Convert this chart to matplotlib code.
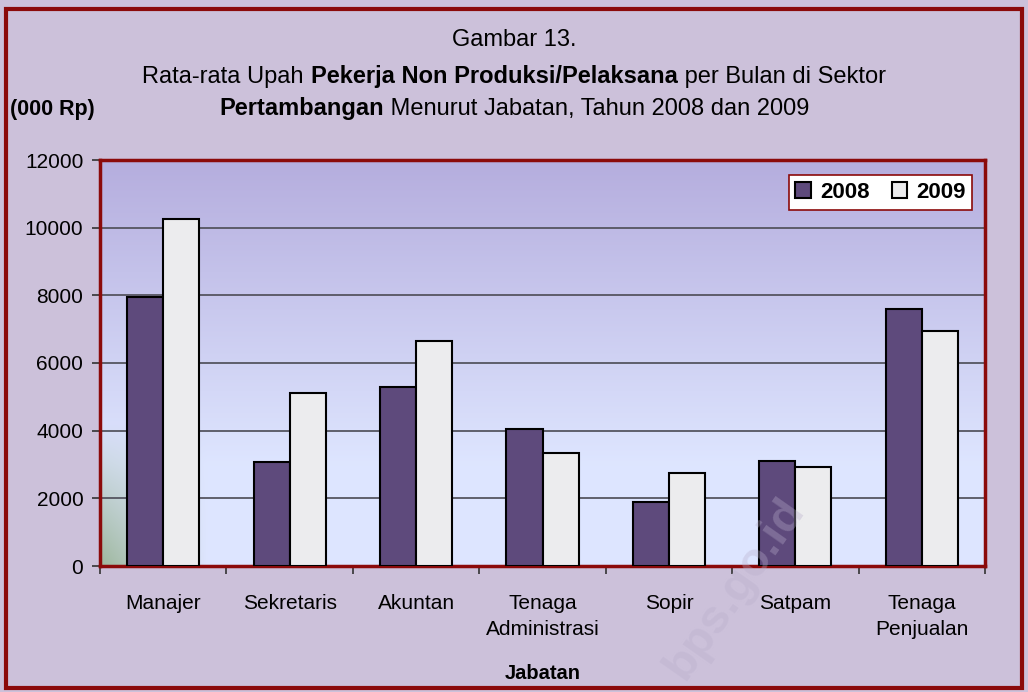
import numpy as np
import matplotlib as mpl
mpl.use('Agg')
import matplotlib.pyplot as plt
from matplotlib.patches import Rectangle
from matplotlib.offsetbox import TextArea, HPacker, AnchoredOffsetbox

# data (000 Rp)
jabatan = ['Manajer', 'Sekretaris', 'Akuntan', 'Tenaga\nAdministrasi',
           'Sopir', 'Satpam', 'Tenaga\nPenjualan']
upah_2008 = [7950, 3060, 5300, 4060, 1880, 3115, 7590]
upah_2009 = [10245, 5120, 6655, 3350, 2760, 2940, 6940]
yticks = [0, 2000, 4000, 6000, 8000, 10000, 12000]

FONT = ['Liberation Sans', 'DejaVu Sans']
plt.rcParams['font.family'] = FONT

bg = '#CCC1DA'
frame_red = '#8B0A0A'
c2008 = '#5E4A7C'
c2009 = '#ECECEE'

fig = plt.figure(figsize=(10.28, 6.92), dpi=100, facecolor=bg)

# outer frame
fig.add_artist(Rectangle((0.006, 0.006), 0.988, 0.981, transform=fig.transFigure,
                         fill=False, edgecolor=frame_red, linewidth=3))

ax = fig.add_axes([100 / 1028, 1 - 566 / 692, 885 / 1028, 406 / 692])

# gradient background of the plot area
ny, nx = 200, 300
yy = np.linspace(0, 1, ny)[:, None]
xx = np.linspace(0, 1, nx)[None, :]
top = np.array([0.71, 0.68, 0.87])
bot = np.array([0.87, 0.90, 1.00])
t = np.clip((yy - 0.25) / 0.75, 0, 1)[..., None]
img = bot * (1 - t) + top * t
img = np.broadcast_to(img, (ny, nx, 3)).copy()
green = np.array([0.62, 0.72, 0.62])
gw = (np.clip(1 - xx / 0.12, 0, 1) * np.clip(1 - yy / 0.35, 0, 1))[..., None]
img = img * (1 - gw) + green * gw
ax.imshow(img, extent=(0, 1, 0, 1), transform=ax.transAxes, origin='lower',
          aspect='auto', zorder=0, interpolation='bilinear')

x = np.arange(len(jabatan))
w = 0.285
ax.bar(x - w / 2, upah_2008, w, color=c2008, edgecolor='black', linewidth=1.5,
       label='2008', zorder=3)
ax.bar(x + w / 2, upah_2009, w, color=c2009, edgecolor='black', linewidth=1.5,
       label='2009', zorder=3)

ax.set_xlim(-0.5, len(jabatan) - 0.5)
ax.set_ylim(0, 12000)
ax.set_yticks(yticks)
ax.set_yticklabels([str(v) for v in yticks], fontsize=15)
ax.yaxis.grid(True, color='#555560', linewidth=1.3, zorder=1)
ax.set_axisbelow(True)

ax.set_xticks(x)
ax.set_xticklabels(jabatan, fontsize=15, linespacing=1.45)
ax.set_xticks(np.arange(-0.5, len(jabatan)), minor=True)
ax.tick_params(axis='x', which='major', length=0, pad=20)
ax.tick_params(axis='x', which='minor', length=6, color='#333333', width=1.2)
ax.tick_params(axis='y', length=6, color='#333333', width=1.2, pad=6)

for s in ['top', 'right', 'bottom', 'left']:
    ax.spines[s].set_color(frame_red)
    ax.spines[s].set_linewidth(2.5)

ax.set_xlabel('Jabatan', fontsize=14.5, fontweight='bold', labelpad=18)

leg = ax.legend(loc='upper right', bbox_to_anchor=(0.998, 0.99), ncol=2,
                fancybox=False, framealpha=1, edgecolor=frame_red,
                prop={'weight': 'bold', 'size': 16}, handlelength=0.7,
                handleheight=0.7, handletextpad=0.4, columnspacing=1.0,
                borderpad=0.3)
leg.get_frame().set_linewidth(1.2)

# title with mixed weights
def title_line(parts, y):
    areas = [TextArea(s, textprops=dict(fontsize=17, fontweight=wt, family=FONT))
             for s, wt in parts]
    box = HPacker(children=areas, pad=0, sep=0, align='baseline')
    anc = AnchoredOffsetbox(loc='center', child=box, frameon=False,
                            bbox_to_anchor=(0.5, y), bbox_transform=fig.transFigure,
                            pad=0, borderpad=0)
    fig.add_artist(anc)

title_line([('Gambar 13.', 'normal')], 1 - 40 / 692)
title_line([('Rata-rata Upah ', 'normal'),
            ('Pekerja Non Produksi/Pelaksana', 'bold'),
            (' per Bulan di Sektor', 'normal')], 1 - 76 / 692)
title_line([('Pertambangan', 'bold'),
            (' Menurut Jabatan, Tahun 2008 dan 2009', 'normal')], 1 - 109 / 692)

fig.text(10 / 1028, 1 - 109 / 692, '(000 Rp)', fontsize=15.5, fontweight='bold',
         ha='left', va='center')

# faint watermark
fig.text(0.715, 0.15, 'bps.go.id', fontsize=34, fontweight='bold', rotation=55,
         color='#B8AECB', alpha=0.35, ha='center', va='center', zorder=0)

fig.savefig('out.png', dpi=100, facecolor=bg)
